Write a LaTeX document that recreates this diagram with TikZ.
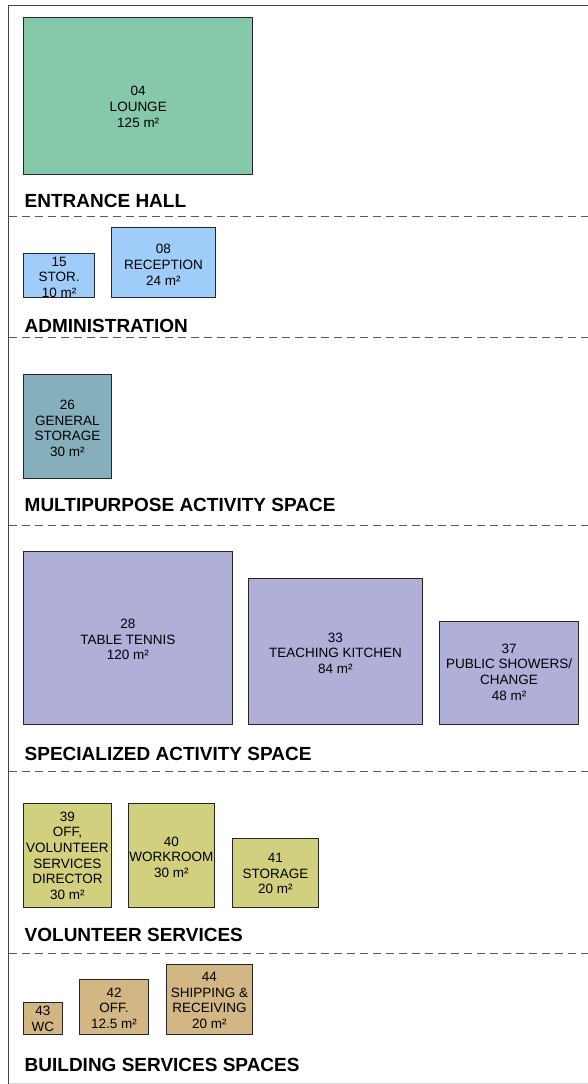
\documentclass[tikz,border=0pt]{standalone}
\usepackage{fontspec}
\setmainfont{Liberation Sans}
\definecolor{cgreen}{HTML}{86C9AA}
\definecolor{cblue}{HTML}{A0CCF9}
\definecolor{cteal}{HTML}{86AFBE}
\definecolor{cpurple}{HTML}{AFAFD7}
\definecolor{colive}{HTML}{D1D07E}
\definecolor{ctan}{HTML}{D2B784}
\definecolor{frame}{HTML}{444444}
\tikzset{
  room/.style={draw=black!85, line width=0.9pt, anchor=north west, inner sep=0pt},
  roomtext/.style={inner sep=0pt, align=center, font=\fontsize{13.5}{15.6}\selectfont},
  grouplabel/.style={anchor=base west, inner sep=0pt, font=\bfseries\fontsize{19}{21}\selectfont},
  divider/.style={draw=black!65, line width=1pt, dash pattern=on 8pt off 5pt},
}
\newcommand{\roomat}[8]{% name, x1, y1, x2, y2, color, text, text offset
  \node[room, fill=#6, minimum width={#4-#2}, minimum height={#5-#3}] (#1) at (#2,#3) {};
  \node[roomtext] (#1t) at ([yshift=-#8pt]#1.center) {#7};}
\begin{document}
\begin{tikzpicture}[x=1pt,y=-1pt]
\useasboundingbox (0,0) rectangle (588,1084);
% frame
\coordinate (ftl) at (8.5,5.5);
\coordinate (ftr) at (588,5.5);
\coordinate (fbl) at (8.5,1084);
\coordinate (bbl) at (8.5,1083);
\coordinate (bbr) at (588,1083);
\draw[frame, line width=1pt] (ftr) -- (ftl) -- (fbl);
\draw[black!15, line width=1pt] (bbl) -- (bbr);
% dividers
\foreach \y/\n in {216.5/a, 337/b, 525.5/c, 771.5/d, 953/e}{
  \coordinate (dl\n) at (8.5,\y);
  \coordinate (dr\n) at (588,\y);
  \draw[divider] (dl\n) -- (dr\n);
}
% Entrance hall
\roomat{r04}{23.3}{16.7}{252.3}{174.3}{cgreen}{04\\LOUNGE\\125 m²}{11}
\node[grouplabel] (lentr) at (24.5,207) {ENTRANCE HALL};
% Administration
\roomat{r15}{23.3}{253.3}{94}{297.3}{cblue}{15\\STOR.\\10 m²}{1.5}
\roomat{r08}{111}{227.3}{215}{297.3}{cblue}{08\\RECEPTION\\24 m²}{2}
\node[grouplabel] (ladmin) at (24.5,332) {ADMINISTRATION};
% Multipurpose
\roomat{r26}{23.3}{374.3}{110.7}{478.3}{cteal}{26\\GENERAL\\STORAGE\\30 m²}{1.5}
\node[grouplabel] (lmulti) at (24.5,511) {MULTIPURPOSE ACTIVITY SPACE};
% Specialized
\roomat{r28}{23.3}{551}{231.7}{724.3}{cpurple}{28\\TABLE TENNIS\\120 m²}{1.5}
\roomat{r33}{248.3}{578.3}{421.7}{724.3}{cpurple}{33\\TEACHING KITCHEN\\84 m²}{1.5}
\roomat{r37}{439}{621}{578.3}{724.3}{cpurple}{37\\PUBLIC SHOWERS/\\CHANGE\\48 m²}{-1}
\node[grouplabel] (lspec) at (24.5,760) {SPECIALIZED ACTIVITY SPACE};
% Volunteer services
\roomat{r39}{23.3}{802.7}{110.7}{906.7}{colive}{39\\OFF,\\VOLUNTEER\\SERVICES\\DIRECTOR\\30 m²}{0.5}
\roomat{r40}{127.7}{802.7}{214.3}{906.7}{colive}{40\\WORKROOM\\30 m²}{2}
\roomat{r41}{231.7}{837.7}{318.3}{906.7}{colive}{41\\STORAGE\\20 m²}{1}
\node[grouplabel] (lvol) at (24.5,941) {VOLUNTEER SERVICES};
% Building services
\roomat{r43}{23.3}{1002.3}{61.7}{1034}{ctan}{43\\WC}{0}
\roomat{r42}{79}{979.3}{148.3}{1034}{ctan}{42\\OFF.\\12.5 m²}{1}
\roomat{r44}{165.7}{964.3}{252.3}{1034}{ctan}{44\\SHIPPING \&\\RECEIVING\\20 m²}{1}
\node[grouplabel] (lbuild) at (24.5,1071) {BUILDING SERVICES SPACES};
\end{tikzpicture}
\end{document}
